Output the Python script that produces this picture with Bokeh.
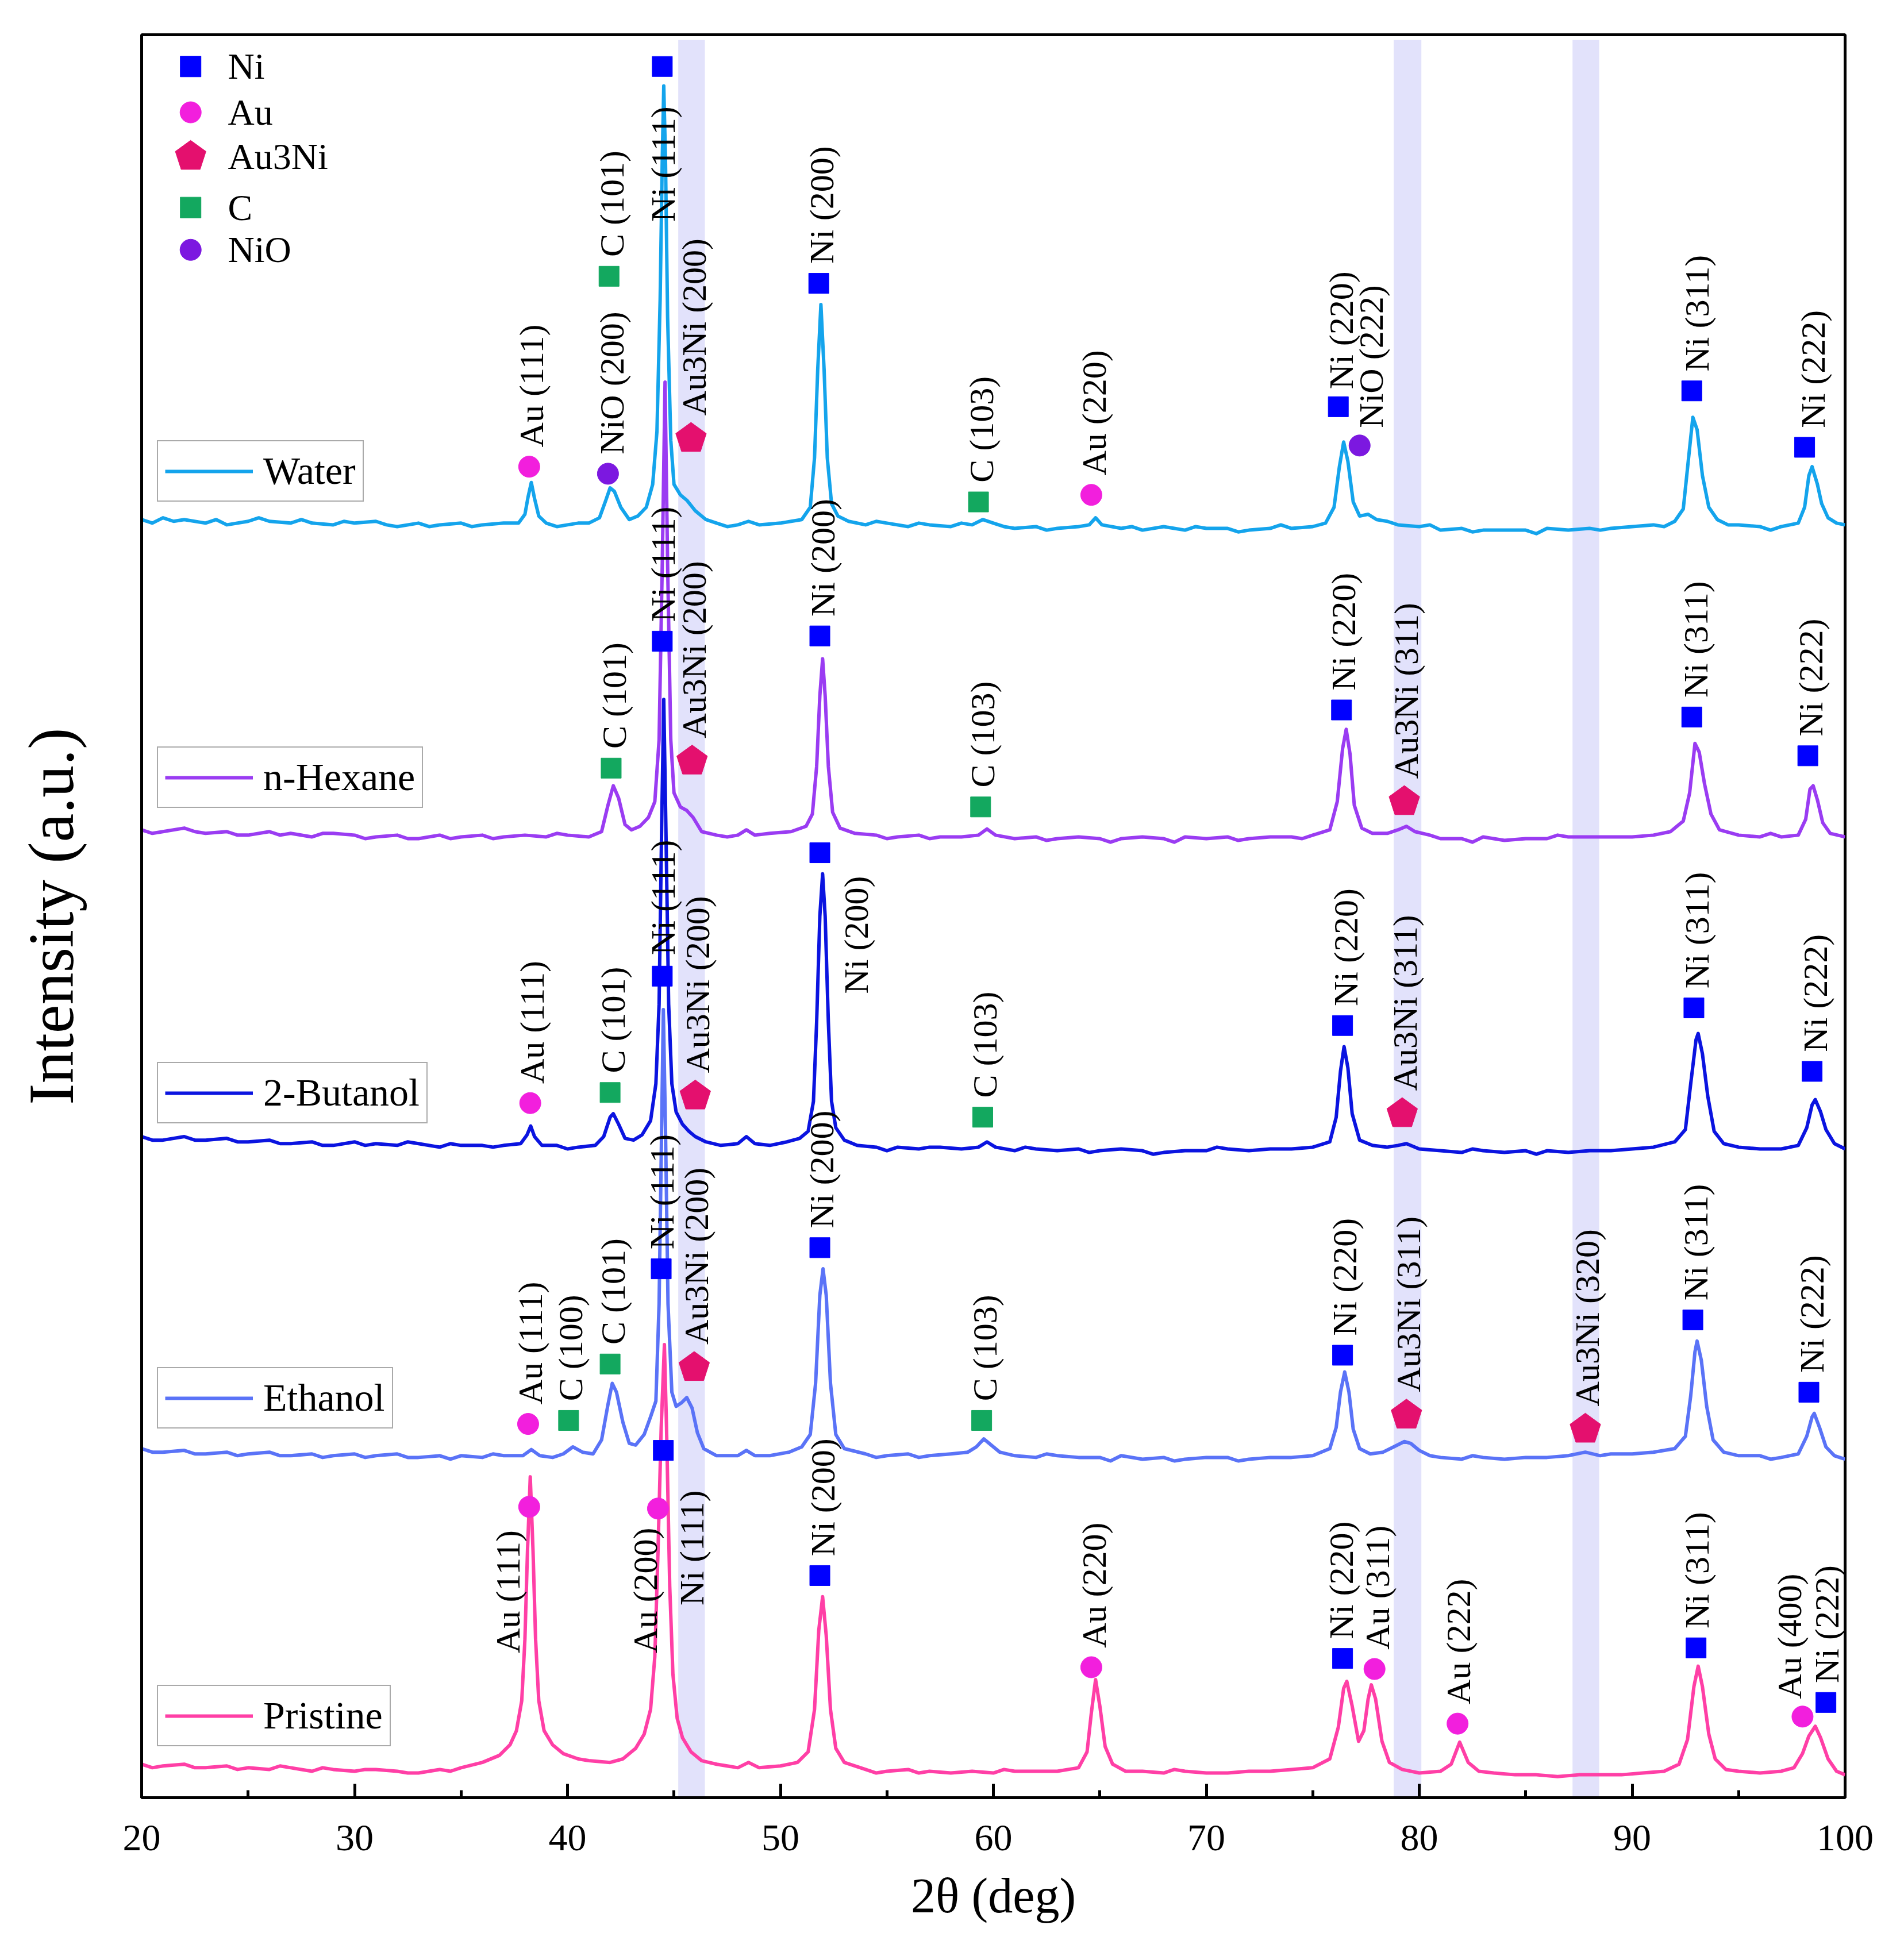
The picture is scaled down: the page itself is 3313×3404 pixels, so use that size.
import math
from bokeh.plotting import figure
from bokeh.models import (Range1d, FixedTicker, Legend, LegendItem, ColumnDataSource)
from bokeh.core.properties import value
from bokeh.embed import file_html
from bokeh.resources import INLINE

FONT = "Liberation Serif"

# ---------------- data (2theta in deg, intensity in a.u., stacked) ----------------
series_names = ["Water", "n-Hexane", "2-Butanol", "Ethanol", "Pristine"]

water_pts = [
    (20.0, 72.5), (20.5, 72.3), (21.0, 72.6), (21.5, 72.4), (22.0, 72.5), (23.0, 72.3), (23.5, 72.5),
    (24.0, 72.2), (25.0, 72.4), (25.5, 72.6), (26.0, 72.4), (27.0, 72.3), (27.5, 72.5), (28.0, 72.3),
    (29.0, 72.2), (29.5, 72.4), (30.0, 72.3), (31.0, 72.4), (31.5, 72.2), (32.0, 72.1), (33.0, 72.3),
    (33.5, 72.1), (34.0, 72.2), (35.0, 72.3), (35.5, 72.1), (36.0, 72.2), (37.0, 72.3), (37.7, 72.3),
    (38.0, 72.8), (38.15, 73.8), (38.3, 74.6), (38.45, 73.7), (38.65, 72.7), (39.0, 72.3), (39.5, 72.1),
    (40.0, 72.2), (40.5, 72.3), (41.0, 72.3), (41.5, 72.6), (41.8, 73.6), (42.0, 74.3), (42.2, 74.1),
    (42.5, 73.2), (42.9, 72.5), (43.3, 72.7), (43.7, 73.2), (44.0, 74.5), (44.2, 77.5), (44.35, 85.0),
    (44.45, 93.0), (44.52, 97.1), (44.6, 93.0), (44.7, 84.0), (44.85, 77.0), (45.0, 74.5), (45.3, 73.9),
    (45.6, 73.6), (46.0, 73.0), (46.5, 72.5), (47.0, 72.3), (47.5, 72.1), (48.0, 72.2), (48.5, 72.4),
    (49.0, 72.2), (50.0, 72.3), (50.5, 72.4), (51.0, 72.5), (51.4, 73.2), (51.6, 76.0), (51.75, 81.0),
    (51.9, 84.7), (52.05, 81.0), (52.2, 76.0), (52.4, 73.4), (52.7, 72.7), (53.2, 72.4), (54.0, 72.2),
    (54.5, 72.4), (55.0, 72.3), (56.0, 72.1), (56.5, 72.3), (57.0, 72.2), (58.0, 72.1), (58.5, 72.3),
    (59.0, 72.2), (59.5, 72.5), (60.0, 72.3), (60.5, 72.1), (61.0, 72.0), (62.0, 72.1), (62.5, 71.9),
    (63.0, 72.0), (64.0, 72.1), (64.5, 72.2), (64.8, 72.6), (65.1, 72.2), (66.0, 72.0), (66.5, 72.1),
    (67.0, 71.9), (68.0, 72.1), (69.0, 71.9), (69.5, 72.1), (70.0, 72.0), (71.0, 72.0), (71.5, 71.8),
    (72.0, 71.9), (73.0, 72.0), (73.5, 72.2), (74.0, 72.0), (75.0, 72.1), (75.6, 72.3), (76.0, 73.2),
    (76.25, 75.5), (76.45, 76.9), (76.65, 75.8), (76.9, 73.5), (77.2, 72.7), (77.6, 72.8), (78.0, 72.5),
    (78.5, 72.4), (79.0, 72.2), (80.0, 72.1), (80.5, 72.2), (81.0, 71.9), (82.0, 72.0), (82.5, 71.8),
    (83.0, 71.9), (84.0, 71.9), (85.0, 71.9), (85.5, 71.7), (86.0, 72.0), (87.0, 71.9), (88.0, 72.0),
    (88.5, 71.9), (89.0, 72.0), (90.0, 72.1), (91.0, 72.2), (91.5, 72.1), (92.0, 72.4), (92.4, 73.1),
    (92.65, 76.0), (92.85, 78.3), (93.05, 77.6), (93.3, 75.0), (93.6, 73.2), (94.0, 72.5), (94.5, 72.2),
    (95.0, 72.2), (96.0, 72.1), (96.5, 71.9), (97.0, 72.1), (97.8, 72.3), (98.1, 73.2), (98.3, 75.0),
    (98.45, 75.5), (98.7, 74.5), (98.9, 73.4), (99.2, 72.6), (99.6, 72.3), (100.0, 72.2),
]

hexane_pts = [
    (20.0, 54.9), (20.5, 54.7), (21.0, 54.8), (22.0, 55.0), (22.5, 54.8), (23.0, 54.7), (24.0, 54.8),
    (24.5, 54.6), (25.0, 54.6), (26.0, 54.8), (26.5, 54.6), (27.0, 54.7), (28.0, 54.5), (28.5, 54.7),
    (29.0, 54.7), (30.0, 54.6), (30.5, 54.4), (31.0, 54.5), (32.0, 54.6), (32.5, 54.4), (33.0, 54.4),
    (34.0, 54.6), (34.5, 54.4), (35.0, 54.5), (36.0, 54.6), (36.5, 54.4), (37.0, 54.5), (38.0, 54.6),
    (39.0, 54.5), (39.5, 54.7), (40.0, 54.6), (41.0, 54.5), (41.6, 54.8), (41.9, 56.3), (42.15, 57.4),
    (42.4, 56.7), (42.7, 55.2), (43.0, 54.9), (43.4, 55.1), (43.8, 55.6), (44.1, 56.5), (44.3, 60.0),
    (44.45, 70.0), (44.58, 80.3), (44.7, 70.0), (44.85, 60.0), (45.0, 57.0), (45.3, 56.2), (45.6, 56.0),
    (45.9, 55.6), (46.3, 54.8), (47.0, 54.6), (47.5, 54.5), (48.0, 54.6), (48.4, 54.9), (48.8, 54.6),
    (49.5, 54.7), (50.5, 54.8), (51.2, 55.1), (51.5, 55.8), (51.7, 58.5), (51.85, 62.5), (51.98, 64.6),
    (52.1, 62.5), (52.25, 58.5), (52.45, 55.9), (52.8, 55.0), (53.5, 54.7), (54.5, 54.6), (55.0, 54.4),
    (55.5, 54.5), (56.5, 54.6), (57.0, 54.4), (57.5, 54.5), (58.5, 54.5), (59.3, 54.6), (59.7, 54.95),
    (60.1, 54.6), (61.0, 54.4), (62.0, 54.5), (62.5, 54.3), (63.0, 54.4), (64.0, 54.5), (65.0, 54.4),
    (65.5, 54.2), (66.0, 54.4), (67.0, 54.5), (68.0, 54.4), (68.5, 54.2), (69.0, 54.5), (70.0, 54.4),
    (71.0, 54.5), (71.5, 54.3), (72.0, 54.4), (73.0, 54.5), (74.0, 54.5), (74.5, 54.4), (75.0, 54.6),
    (75.8, 54.9), (76.15, 56.5), (76.4, 59.5), (76.57, 60.6), (76.75, 59.2), (76.95, 56.3), (77.3, 55.0),
    (77.8, 54.7), (78.5, 54.7), (79.0, 54.9), (79.4, 55.1), (79.8, 54.8), (80.5, 54.6), (81.0, 54.4),
    (82.0, 54.4), (82.5, 54.2), (83.0, 54.5), (84.0, 54.3), (85.0, 54.4), (86.0, 54.4), (86.5, 54.6),
    (87.0, 54.5), (88.0, 54.5), (89.0, 54.5), (90.0, 54.5), (91.0, 54.6), (91.8, 54.8), (92.4, 55.4),
    (92.7, 57.0), (92.95, 59.8), (93.15, 59.3), (93.4, 57.5), (93.7, 55.8), (94.1, 54.9), (95.0, 54.6),
    (96.0, 54.5), (96.5, 54.7), (97.0, 54.5), (97.8, 54.6), (98.15, 55.5), (98.35, 57.2), (98.5, 57.4),
    (98.7, 56.6), (98.95, 55.3), (99.3, 54.7), (100.0, 54.5),
]

butanol_pts = [
    (20.0, 37.5), (20.5, 37.3), (21.0, 37.3), (22.0, 37.5), (22.5, 37.3), (23.0, 37.3), (24.0, 37.4),
    (24.5, 37.2), (25.0, 37.2), (26.0, 37.3), (26.5, 37.1), (27.0, 37.1), (28.0, 37.2), (28.5, 37.0),
    (29.0, 37.0), (30.0, 37.2), (30.5, 37.0), (31.0, 37.1), (32.0, 37.0), (32.5, 37.2), (33.0, 37.1),
    (34.0, 36.9), (34.5, 37.1), (35.0, 37.0), (36.0, 37.0), (36.5, 36.9), (37.0, 37.0), (37.8, 37.1),
    (38.1, 37.6), (38.27, 38.1), (38.45, 37.5), (38.8, 37.0), (39.5, 37.0), (40.0, 36.8), (40.5, 36.9),
    (41.3, 37.0), (41.7, 37.5), (42.0, 38.6), (42.15, 38.8), (42.4, 38.2), (42.7, 37.4), (43.1, 37.3),
    (43.5, 37.6), (43.9, 38.4), (44.15, 40.5), (44.3, 45.0), (44.42, 55.0), (44.52, 62.3), (44.62, 55.0),
    (44.75, 45.0), (44.9, 40.5), (45.1, 38.9), (45.4, 38.2), (45.7, 37.8), (46.0, 37.5), (46.5, 37.2),
    (47.2, 37.0), (48.0, 37.1), (48.4, 37.5), (48.8, 37.1), (49.5, 37.0), (50.3, 37.2), (50.9, 37.4),
    (51.3, 37.8), (51.55, 39.5), (51.7, 44.0), (51.85, 50.0), (51.98, 52.4), (52.1, 50.0), (52.25, 44.0),
    (52.4, 39.5), (52.6, 38.0), (53.0, 37.3), (53.6, 37.0), (54.5, 36.9), (55.0, 36.7), (55.5, 36.9),
    (56.5, 36.8), (57.0, 36.9), (57.5, 36.9), (58.5, 36.8), (59.3, 36.9), (59.7, 37.2), (60.1, 36.9),
    (61.0, 36.7), (61.5, 36.9), (62.0, 36.8), (63.0, 36.7), (64.0, 36.8), (64.5, 36.6), (65.0, 36.7),
    (66.0, 36.8), (67.0, 36.7), (67.5, 36.5), (68.0, 36.6), (69.0, 36.7), (70.0, 36.7), (70.5, 36.9),
    (71.0, 36.8), (72.0, 36.7), (73.0, 36.8), (74.0, 36.8), (75.0, 36.9), (75.8, 37.2), (76.1, 38.6),
    (76.3, 41.2), (76.47, 42.6), (76.65, 41.4), (76.85, 38.8), (77.2, 37.3), (77.8, 37.0), (78.5, 36.9),
    (79.0, 37.0), (79.4, 37.1), (80.0, 36.8), (81.0, 36.7), (82.0, 36.6), (82.5, 36.8), (83.0, 36.7),
    (84.0, 36.6), (85.0, 36.7), (85.5, 36.5), (86.0, 36.7), (87.0, 36.6), (88.0, 36.7), (89.0, 36.7),
    (90.0, 36.8), (91.0, 36.9), (92.0, 37.2), (92.5, 37.9), (92.75, 40.5), (93.0, 43.0), (93.1, 43.35),
    (93.3, 42.2), (93.55, 39.8), (93.85, 37.8), (94.3, 37.1), (95.0, 36.9), (96.0, 36.8), (97.0, 36.8),
    (97.8, 37.0), (98.2, 38.0), (98.45, 39.3), (98.6, 39.6), (98.85, 38.9), (99.1, 37.9), (99.5, 37.1),
    (100.0, 36.8),
]

ethanol_pts = [
    (20.0, 19.8), (20.5, 19.6), (21.0, 19.6), (22.0, 19.7), (22.5, 19.5), (23.0, 19.5), (24.0, 19.6),
    (24.5, 19.4), (25.0, 19.5), (26.0, 19.6), (26.5, 19.4), (27.0, 19.4), (28.0, 19.5), (28.5, 19.3),
    (29.0, 19.4), (30.0, 19.5), (30.5, 19.3), (31.0, 19.4), (32.0, 19.5), (32.5, 19.3), (33.0, 19.3),
    (34.0, 19.4), (34.5, 19.2), (35.0, 19.4), (36.0, 19.3), (36.5, 19.5), (37.0, 19.4), (37.9, 19.4),
    (38.3, 19.75), (38.7, 19.4), (39.3, 19.3), (39.8, 19.5), (40.25, 19.9), (40.7, 19.6), (41.2, 19.5),
    (41.6, 20.3), (41.9, 22.3), (42.1, 23.5), (42.3, 23.0), (42.6, 21.3), (42.9, 20.1), (43.2, 20.0),
    (43.6, 20.6), (43.9, 21.6), (44.15, 22.5), (44.3, 28.0), (44.42, 38.0), (44.5, 44.7), (44.6, 38.0),
    (44.72, 28.0), (44.9, 23.0), (45.1, 22.2), (45.35, 22.4), (45.6, 22.7), (45.85, 22.1), (46.1, 20.7),
    (46.4, 19.8), (47.0, 19.4), (48.0, 19.4), (48.4, 19.7), (48.8, 19.4), (49.5, 19.4), (50.4, 19.6),
    (51.0, 19.9), (51.4, 20.6), (51.65, 23.5), (51.85, 28.5), (52.0, 30.0), (52.15, 28.5), (52.35, 23.5),
    (52.6, 20.6), (53.0, 19.8), (54.0, 19.5), (54.5, 19.3), (55.0, 19.4), (56.0, 19.5), (56.5, 19.3),
    (57.0, 19.4), (58.0, 19.5), (58.8, 19.6), (59.2, 19.9), (59.55, 20.35), (59.9, 20.0), (60.3, 19.6),
    (61.0, 19.4), (62.0, 19.3), (62.5, 19.5), (63.0, 19.4), (64.0, 19.3), (65.0, 19.3), (65.5, 19.1),
    (66.0, 19.4), (67.0, 19.2), (68.0, 19.3), (68.5, 19.1), (69.0, 19.2), (70.0, 19.3), (71.0, 19.3),
    (71.5, 19.1), (72.0, 19.2), (73.0, 19.3), (74.0, 19.3), (75.0, 19.4), (75.8, 19.8), (76.1, 21.0),
    (76.3, 23.0), (76.5, 24.15), (76.7, 23.0), (76.9, 20.9), (77.2, 19.8), (77.7, 19.5), (78.3, 19.6),
    (78.8, 19.9), (79.3, 20.2), (79.6, 20.1), (80.0, 19.7), (80.5, 19.4), (81.0, 19.3), (82.0, 19.2),
    (82.5, 19.4), (83.0, 19.3), (84.0, 19.2), (85.0, 19.3), (86.0, 19.3), (87.0, 19.4), (87.8, 19.6),
    (88.5, 19.4), (89.0, 19.5), (90.0, 19.5), (91.0, 19.6), (92.0, 19.8), (92.5, 20.5), (92.75, 22.8),
    (92.95, 25.3), (93.05, 25.9), (93.25, 24.8), (93.5, 22.2), (93.8, 20.3), (94.3, 19.6), (95.0, 19.4),
    (96.0, 19.4), (96.5, 19.2), (97.0, 19.3), (97.8, 19.5), (98.2, 20.5), (98.45, 21.6), (98.55, 21.8),
    (98.8, 21.0), (99.1, 19.9), (99.5, 19.4), (100.0, 19.2),
]

pristine_pts = [
    (20.0, 1.9), (20.5, 1.7), (21.0, 1.8), (22.0, 1.9), (22.5, 1.7), (23.0, 1.7), (24.0, 1.8),
    (24.5, 1.6), (25.0, 1.7), (26.0, 1.6), (26.5, 1.8), (27.0, 1.7), (28.0, 1.5), (28.5, 1.7),
    (29.0, 1.6), (30.0, 1.5), (30.5, 1.6), (31.0, 1.6), (32.0, 1.5), (32.5, 1.4), (33.0, 1.4),
    (34.0, 1.6), (34.5, 1.5), (35.0, 1.7), (36.0, 2.0), (36.8, 2.4), (37.3, 3.0), (37.6, 3.8),
    (37.85, 5.5), (38.0, 9.0), (38.12, 14.0), (38.25, 18.2), (38.38, 14.0), (38.5, 9.0), (38.65, 5.5),
    (38.9, 3.8), (39.3, 3.0), (39.8, 2.5), (40.5, 2.2), (41.0, 2.1), (42.0, 2.0), (42.6, 2.2),
    (43.2, 2.8), (43.6, 3.6), (43.9, 5.0), (44.1, 8.0), (44.25, 14.0), (44.4, 21.0), (44.55, 25.7),
    (44.65, 21.0), (44.8, 12.0), (44.95, 7.0), (45.15, 4.5), (45.4, 3.4), (45.8, 2.6), (46.3, 2.1),
    (47.0, 1.9), (48.0, 1.7), (48.5, 2.0), (49.0, 1.7), (50.0, 1.8), (50.8, 2.0), (51.3, 2.6),
    (51.6, 5.0), (51.8, 9.5), (51.98, 11.4), (52.15, 9.2), (52.35, 5.0), (52.6, 2.8), (53.0, 2.0),
    (54.0, 1.6), (54.5, 1.4), (55.0, 1.5), (56.0, 1.6), (56.5, 1.4), (57.0, 1.5), (58.0, 1.4),
    (59.0, 1.5), (60.0, 1.4), (60.5, 1.6), (61.0, 1.5), (62.0, 1.5), (63.0, 1.5), (64.0, 1.7),
    (64.4, 2.6), (64.6, 4.8), (64.8, 6.7), (65.0, 5.2), (65.25, 2.9), (65.6, 1.9), (66.2, 1.5),
    (67.0, 1.5), (68.0, 1.4), (68.5, 1.6), (69.0, 1.5), (70.0, 1.4), (71.0, 1.4), (72.0, 1.5),
    (73.0, 1.5), (74.0, 1.6), (75.0, 1.7), (75.8, 2.2), (76.2, 4.0), (76.45, 6.2), (76.6, 6.6),
    (76.85, 5.2), (77.15, 3.2), (77.4, 3.8), (77.6, 5.6), (77.75, 6.4), (77.95, 5.6), (78.25, 3.2),
    (78.6, 2.0), (79.2, 1.6), (80.0, 1.4), (81.0, 1.5), (81.5, 1.9), (81.9, 3.15), (82.3, 2.0),
    (82.8, 1.5), (83.5, 1.4), (84.5, 1.3), (85.5, 1.3), (86.5, 1.2), (87.5, 1.3), (88.5, 1.3),
    (89.5, 1.3), (90.5, 1.4), (91.5, 1.5), (92.2, 1.9), (92.6, 3.3), (92.9, 6.3), (93.1, 7.46),
    (93.3, 6.3), (93.6, 3.6), (93.9, 2.2), (94.4, 1.6), (95.0, 1.5), (96.0, 1.4), (97.0, 1.5),
    (97.6, 1.7), (98.0, 2.5), (98.3, 3.5), (98.6, 4.05), (98.85, 3.4), (99.2, 2.2), (99.6, 1.5),
    (100.0, 1.3),
]

series_points = [water_pts, hexane_pts, butanol_pts, ethanol_pts, pristine_pts]
series_colors = ["#14A4EC", "#9A3CF2", "#0B14E0", "#5A73F7", "#FF3FA6"]

# shaded 2theta bands
band_left = [45.2, 78.8, 87.2]
band_right = [46.45, 80.1, 88.45]

# phase key
phase_names = ["Ni", "Au", "Au3Ni", "C", "NiO"]
phase_colors = {"Ni": "#0000FF", "Au": "#F21FDD", "Au3Ni": "#E4106E", "C": "#13A85F", "NiO": "#7C18E0"}

# peak assignments: (phase, label, marker 2theta, marker intensity, label 2theta, label intensity)
peak_marks = [
    # Water
    ("Au", "Au (111)", 38.2, 75.5, 38.3, 76.6),
    ("NiO", "NiO (200)", 41.9, 75.1, 42.1, 76.2),
    ("C", "C (101)", 41.95, 86.3, 42.1, 87.4),
    ("Ni", "Ni (111)", 44.45, 98.2, 44.5, 89.4),
    ("Au3Ni", "Au3Ni (200)", 45.8, 77.1, 45.95, 78.4),
    ("Ni", "Ni (200)", 51.8, 85.9, 51.95, 87.0),
    ("C", "C (103)", 59.3, 73.5, 59.45, 74.6),
    ("Au", "Au (220)", 64.6, 73.9, 64.75, 75.0),
    ("Ni", "Ni (220)", 76.2, 78.9, 76.35, 79.9),
    ("NiO", "NiO (222)", 77.2, 76.7, 77.75, 77.7),
    ("Ni", "Ni (311)", 92.8, 79.8, 93.05, 80.9),
    ("Ni", "Ni (222)", 98.1, 76.6, 98.5, 77.7),
    # n-Hexane
    ("C", "C (101)", 42.05, 58.4, 42.2, 59.5),
    ("Ni", "Ni (111)", 44.45, 65.6, 44.5, 66.7),
    ("Au3Ni", "Au3Ni (200)", 45.85, 58.8, 45.95, 60.1),
    ("Ni", "Ni (200)", 51.85, 65.9, 52.0, 67.0),
    ("C", "C (103)", 59.4, 56.2, 59.5, 57.3),
    ("Ni", "Ni (220)", 76.35, 61.7, 76.45, 62.8),
    ("Au3Ni", "Au3Ni (311)", 79.3, 56.5, 79.4, 57.8),
    ("Ni", "Ni (311)", 92.8, 61.3, 93.0, 62.4),
    ("Ni", "Ni (222)", 98.25, 59.1, 98.4, 60.2),
    # 2-Butanol
    ("Au", "Au (111)", 38.25, 39.4, 38.35, 40.5),
    ("C", "C (101)", 42.0, 40.0, 42.15, 41.1),
    ("Ni", "Ni (111)", 44.45, 46.6, 44.5, 47.8),
    ("Au3Ni", "Au3Ni (200)", 46.0, 39.8, 46.1, 41.1),
    ("Ni", "Ni (200)", 51.85, 53.6, 53.55, 45.6),
    ("C", "C (103)", 59.5, 38.6, 59.6, 39.7),
    ("Ni", "Ni (220)", 76.4, 43.8, 76.55, 44.9),
    ("Au3Ni", "Au3Ni (311)", 79.2, 38.8, 79.35, 40.1),
    ("Ni", "Ni (311)", 92.9, 44.8, 93.05, 45.9),
    ("Ni", "Ni (222)", 98.45, 41.2, 98.6, 42.3),
    # Ethanol
    ("Au", "Au (111)", 38.15, 21.2, 38.25, 22.3),
    ("C", "C (100)", 40.05, 21.4, 40.15, 22.5),
    ("C", "C (101)", 42.0, 24.6, 42.15, 25.7),
    ("Ni", "Ni (111)", 44.4, 30.0, 44.45, 31.1),
    ("Au3Ni", "Au3Ni (200)", 45.95, 24.4, 46.05, 25.7),
    ("Ni", "Ni (200)", 51.85, 31.2, 51.95, 32.3),
    ("C", "C (103)", 59.45, 21.4, 59.6, 22.5),
    ("Ni", "Ni (220)", 76.4, 25.1, 76.5, 26.2),
    ("Au3Ni", "Au3Ni (311)", 79.4, 21.7, 79.5, 23.0),
    ("Au3Ni", "Au3Ni (320)", 87.8, 20.9, 87.9, 22.2),
    ("Ni", "Ni (311)", 92.85, 27.1, 93.0, 28.2),
    ("Ni", "Ni (222)", 98.3, 23.0, 98.45, 24.1),
    # Pristine
    ("Ni", "Ni (111)", 44.5, 19.7, 45.85, 10.9),
    ("Au", "Au (111)", 38.2, 16.5, 37.2, 8.2),
    ("Au", "Au (200)", 44.25, 16.4, 43.65, 8.2),
    ("Ni", "Ni (200)", 51.85, 12.6, 52.0, 13.7),
    ("Au", "Au (220)", 64.6, 7.4, 64.75, 8.5),
    ("Ni", "Ni (220)", 76.4, 7.9, 76.35, 9.0),
    ("Au", "Au (311)", 77.9, 7.3, 78.05, 8.4),
    ("Au", "Au (222)", 81.8, 4.2, 81.85, 5.3),
    ("Ni", "Ni (311)", 93.0, 8.5, 93.05, 9.6),
    ("Au", "Au (400)", 98.0, 4.6, 97.4, 5.6),
    ("Ni", "Ni (222)", 99.1, 5.4, 99.15, 6.5),
]

# ---------------- figure ----------------
p = figure(frame_width=2964, frame_height=3068,
           x_range=Range1d(20, 100), y_range=Range1d(0, 100),
           output_backend="svg", toolbar_location=None,
           min_border_left=246, min_border_right=80, min_border_top=60, min_border_bottom=256,
           x_axis_label="2θ (deg)", y_axis_label="Intensity (a.u.)")
p.xgrid.visible = False
p.ygrid.visible = False
p.outline_line_color = "black"
p.outline_line_width = 5
p.outline_line_alpha = 1.0
p.background_fill_color = "white"
p.border_fill_color = "white"

xa = p.xaxis[0]
xa.ticker = FixedTicker(ticks=[20, 30, 40, 50, 60, 70, 80, 90, 100],
                        minor_ticks=[25, 35, 45, 55, 65, 75, 85, 95])
xa.major_tick_in = 24
xa.major_tick_out = 0
xa.minor_tick_in = 13
xa.minor_tick_out = 0
xa.major_tick_line_width = 5
xa.minor_tick_line_width = 5
xa.axis_line_width = 5
xa.major_label_text_font = FONT
xa.major_label_text_font_size = "66px"
xa.major_label_text_color = "black"
xa.major_label_standoff = 48
xa.axis_label_text_font = FONT
xa.axis_label_text_font_size = "86px"
xa.axis_label_text_font_style = "normal"
xa.axis_label_text_color = "black"
xa.axis_label_standoff = 28

ya = p.yaxis[0]
ya.ticker = FixedTicker(ticks=[])
ya.major_tick_in = 0
ya.major_tick_out = 0
ya.minor_tick_in = 0
ya.minor_tick_out = 0
ya.major_label_standoff = 0
ya.axis_line_width = 5
ya.axis_label_text_font = FONT
ya.axis_label_text_font_size = "112px"
ya.axis_label_text_font_style = "normal"
ya.axis_label_text_color = "black"
ya.axis_label_standoff = 96

# shaded bands
p.quad(left=band_left, right=band_right, bottom=0, top=99.7,
       fill_color="#E2E2FB", line_color=None, fill_alpha=1.0)

# curves
renderers = []
for pts, col in zip(series_points, series_colors):
    xs = [a for a, b in pts]
    ys = [b for a, b in pts]
    r = p.line(xs, ys, line_color=col, line_width=6, line_join="round")
    renderers.append(r)

# markers
def add_markers(xs, ys, phase, sq=35, circ=37, pent=28):
    col = phase_colors[phase]
    if phase in ("Ni", "C"):
        p.scatter(xs, ys, marker="square", size=sq, fill_color=col, line_color=col)
    elif phase in ("Au", "NiO"):
        p.scatter(xs, ys, marker="circle", size=circ, fill_color=col, line_color=col)
    else:
        try:
            p.ngon(x=xs, y=ys, radius=pent, radius_units="screen", n=5, angle=0,
                   fill_color=col, line_color=col)
        except Exception:
            p.scatter(xs, ys, marker="hex", size=2 * pent, fill_color=col, line_color=col)

for ph in phase_names:
    mx = [m[2] for m in peak_marks if m[0] == ph]
    my = [m[3] for m in peak_marks if m[0] == ph]
    add_markers(mx, my, ph)

lab_src = ColumnDataSource(dict(x=[m[4] for m in peak_marks], y=[m[5] for m in peak_marks],
                                text=[m[1] for m in peak_marks]))
p.text(x="x", y="y", text="text", source=lab_src, angle=math.pi / 2,
       text_align="left", text_baseline="middle", text_font=value(FONT),
       text_font_size="60px", text_color="black")

# phase key (top-left)
key_x = 22.3
key_text_x = 24.05
key_y = [98.2, 95.6, 93.1, 90.2, 87.8]
for ph, ky in zip(phase_names, key_y):
    add_markers([key_x], [ky], ph, sq=36, circ=37, pent=28)
p.text(x=[key_text_x] * len(phase_names), y=key_y, text=phase_names,
       text_align="left", text_baseline="middle", text_font=value(FONT),
       text_font_size="64px", text_color="black")

# series legends (one box per curve)
legend_bottoms = [2255, 1722, 1173, 642, 89]
for name, r, yb in zip(series_names, renderers, legend_bottoms):
    leg = Legend(items=[LegendItem(label=name, renderers=[r])], location=(27, yb))
    leg.label_text_font = FONT
    leg.label_text_font_size = "68px"
    leg.label_text_color = "black"
    leg.glyph_width = 153
    leg.glyph_height = 72
    leg.label_height = 72
    leg.label_standoff = 18
    leg.padding = 12
    leg.margin = 0
    leg.spacing = 0
    leg.border_line_color = "#555555"
    leg.border_line_width = 2
    leg.background_fill_color = "white"
    leg.background_fill_alpha = 1.0
    p.add_layout(leg)

open("out.html", "w").write(file_html(p, INLINE))
